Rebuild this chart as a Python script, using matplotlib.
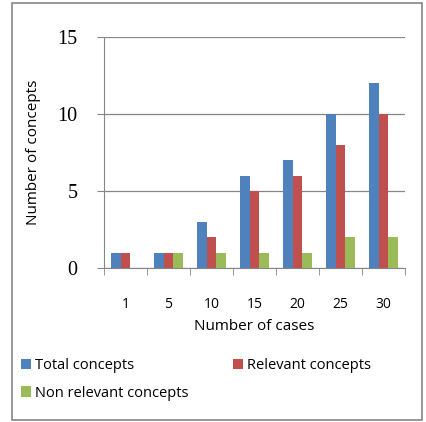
import matplotlib
matplotlib.use("Agg")
import matplotlib.pyplot as plt
import numpy as np
from matplotlib.patches import Rectangle

categories = ["1", "5", "10", "15", "20", "25", "30"]
total = [1, 1, 3, 6, 7, 10, 12]
relevant = [1, 1, 2, 5, 6, 8, 10]
non_relevant = [0, 1, 1, 1, 1, 2, 2]
series_names = ["Total concepts", "Relevant concepts", "Non relevant concepts"]
colors = ["#4F81BD", "#C0504D", "#9BBB59"]
yticks = [0, 5, 10, 15]

fig = plt.figure(figsize=(4.26, 4.22), dpi=100)
ax = fig.add_axes([0.244, 0.365, 0.707, 0.547])

x = np.arange(len(categories))
w = 0.22
handles = []
for i, (vals, c, name) in enumerate(zip([total, relevant, non_relevant], colors, series_names)):
    h = ax.bar(x + (i - 1) * w, vals, w, color=c, label=name, zorder=3)
    handles.append(h)

ax.set_xlim(-0.5, len(categories) - 0.5)
ax.set_ylim(0, 15)
ax.set_yticks(yticks)
ax.set_yticklabels([str(t) for t in yticks], family="Liberation Serif", fontsize=14.5)
ax.yaxis.grid(True, color="#868686", linewidth=0.9, zorder=0)
ax.set_xticks(x)
ax.set_xticklabels(categories, family="Open Sans", fontsize=10)
ax.set_xticks(np.arange(len(categories) + 1) - 0.5, minor=True)
ax.tick_params(axis="x", which="major", length=0, pad=21)
ax.tick_params(axis="x", which="minor", length=5, color="#868686", direction="out")
ax.tick_params(axis="y", length=5, color="#868686", direction="out", pad=14)
for s in ["top", "right"]:
    ax.spines[s].set_visible(False)
for s in ["left", "bottom"]:
    ax.spines[s].set_color("#868686")
ax.set_xlabel("Number of cases", family="Open Sans", fontsize=11, labelpad=5)
ax.set_ylabel("Number of concepts", family="Open Sans", fontsize=11, labelpad=12)

order = [0, 2, 1]
leg = fig.legend(handles=[handles[i] for i in order], labels=[series_names[i] for i in order],
                 ncol=2, loc="upper left",
                 bbox_to_anchor=(0.035, 0.165), frameon=False,
                 prop={"family": "Open Sans", "size": 10.5},
                 handlelength=0.7, handleheight=0.7, handletextpad=0.3,
                 columnspacing=3.0, labelspacing=0.85, borderaxespad=0)

fig.patches.append(Rectangle((12 / 426, 2 / 422), 410 / 426, 417 / 422,
                             transform=fig.transFigure, fill=False,
                             edgecolor="#868686", linewidth=1.2))

fig.savefig("out.png", dpi=100)
